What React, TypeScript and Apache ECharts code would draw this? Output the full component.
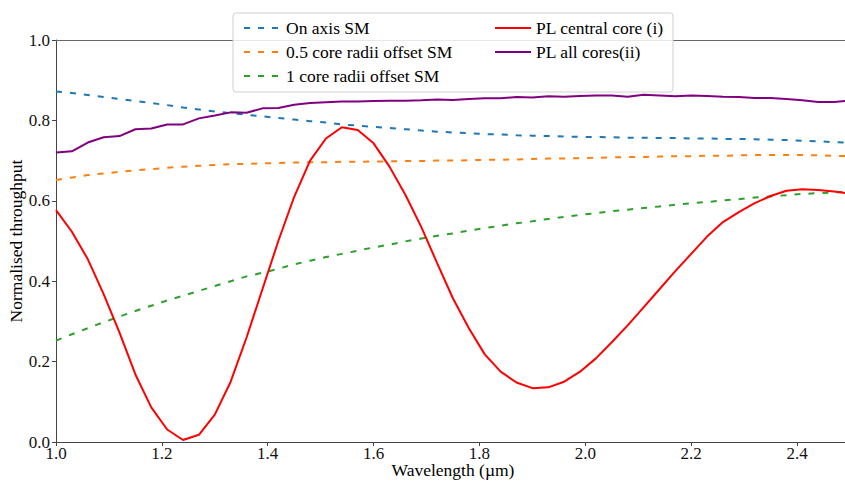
import React, { useEffect, useRef } from "react";
import * as echarts from "echarts";

// Wavelength samples (µm)
const wavelength = [
  1.00, 1.03, 1.06, 1.09, 1.12, 1.15, 1.18, 1.21, 1.24, 1.27,
  1.30, 1.33, 1.36, 1.39, 1.42, 1.45, 1.48, 1.51, 1.54, 1.57,
  1.60, 1.63, 1.66, 1.69, 1.72, 1.75, 1.78, 1.81, 1.84, 1.87,
  1.90, 1.93, 1.96, 1.99, 2.02, 2.05, 2.08, 2.11, 2.14, 2.17,
  2.20, 2.23, 2.26, 2.29, 2.32, 2.35, 2.38, 2.41, 2.44, 2.47, 2.50,
];

const onAxisSM = [
  0.872, 0.868, 0.863, 0.858, 0.853, 0.848, 0.843, 0.838, 0.832, 0.827,
  0.822, 0.818, 0.814, 0.810, 0.806, 0.802, 0.798, 0.795, 0.790, 0.787,
  0.784, 0.781, 0.778, 0.775, 0.772, 0.770, 0.768, 0.766, 0.765, 0.763,
  0.762, 0.761, 0.760, 0.759, 0.759, 0.758, 0.757, 0.757, 0.756, 0.756,
  0.755, 0.755, 0.754, 0.754, 0.753, 0.752, 0.751, 0.749, 0.748, 0.746, 0.744,
];

const halfCoreSM = [
  0.652, 0.658, 0.664, 0.668, 0.672, 0.676, 0.679, 0.682, 0.685, 0.687,
  0.689, 0.691, 0.692, 0.693, 0.694, 0.695, 0.696, 0.696, 0.697, 0.697,
  0.698, 0.698, 0.699, 0.699, 0.700, 0.700, 0.701, 0.702, 0.702, 0.703,
  0.704, 0.705, 0.705, 0.706, 0.707, 0.708, 0.709, 0.709, 0.710, 0.711,
  0.711, 0.712, 0.712, 0.713, 0.714, 0.714, 0.714, 0.714, 0.713, 0.712, 0.711,
];

const oneCoreSM = [
  0.252, 0.268, 0.283, 0.298, 0.312, 0.326, 0.339, 0.352, 0.364, 0.376,
  0.388, 0.400, 0.412, 0.421, 0.431, 0.442, 0.451, 0.460, 0.468, 0.476,
  0.484, 0.491, 0.499, 0.506, 0.513, 0.519, 0.526, 0.532, 0.538, 0.544,
  0.549, 0.555, 0.560, 0.565, 0.569, 0.574, 0.578, 0.582, 0.586, 0.590,
  0.594, 0.597, 0.601, 0.604, 0.608, 0.611, 0.614, 0.617, 0.619, 0.621, 0.623,
];

const plCentral = [
  0.577, 0.523, 0.455, 0.368, 0.272, 0.168, 0.086, 0.031, 0.005, 0.018,
  0.068, 0.150, 0.260, 0.380, 0.500, 0.610, 0.700, 0.755, 0.783, 0.776,
  0.743, 0.685, 0.615, 0.535, 0.445, 0.357, 0.283, 0.218, 0.175, 0.148,
  0.134, 0.136, 0.150, 0.175, 0.208, 0.248, 0.290, 0.335, 0.380, 0.425,
  0.468, 0.511, 0.547, 0.572, 0.594, 0.612, 0.625, 0.629, 0.627, 0.623, 0.618,
];

const plAllCores = [
  0.720, 0.723, 0.745, 0.758, 0.761, 0.778, 0.780, 0.790, 0.790, 0.805,
  0.812, 0.820, 0.819, 0.830, 0.831, 0.839, 0.843, 0.845, 0.847, 0.847,
  0.848, 0.849, 0.849, 0.850, 0.852, 0.851, 0.853, 0.855, 0.855, 0.858,
  0.857, 0.860, 0.859, 0.861, 0.862, 0.862, 0.859, 0.864, 0.862, 0.860,
  0.862, 0.861, 0.859, 0.858, 0.856, 0.856, 0.853, 0.850, 0.846, 0.846, 0.849,
];

const xTicks = [1.0, 1.2, 1.4, 1.6, 1.8, 2.0, 2.2, 2.4];
const yTicks = [0.0, 0.2, 0.4, 0.6, 0.8, 1.0];

const FONT = "Liberation Serif";
const AXIS_COLOR = "#444";
const TEXT_SIZE = 17.5;

const pairs = (ys: number[]) => wavelength.map((x, i) => [x, ys[i]]);

export default function App() {
  const ref = useRef<HTMLDivElement>(null);

  useEffect(() => {
    if (!ref.current) return;
    const chart = echarts.init(ref.current, undefined, { renderer: "svg" });

    const dashed = (name: string, color: string, ys: number[]) => ({
      name,
      type: "line",
      data: pairs(ys),
      symbol: "none",
      lineStyle: { color, width: 2, type: [6, 8] },
      itemStyle: { color },
      z: 2,
    });
    const solid = (name: string, color: string, ys: number[]) => ({
      name,
      type: "line",
      data: pairs(ys),
      symbol: "none",
      lineStyle: { color, width: 2 },
      itemStyle: { color },
      z: 3,
    });

    const legendCommon = {
      orient: "vertical",
      top: 14,
      itemWidth: 37,
      itemHeight: 14,
      itemGap: 6,
      itemStyle: { opacity: 0 },
      textStyle: { fontFamily: FONT, fontSize: TEXT_SIZE, color: "#000", lineHeight: 18 },
      z: 6,
    };

    const tickFmt = (ticks: number[]) => (v: number) =>
      ticks.some((t) => Math.abs(t - v) < 1e-6) ? v.toFixed(1) : "";

    chart.setOption({
      animation: false,
      backgroundColor: "#fff",
      grid: {
        left: 56,
        top: 40,
        width: 794,
        height: 402,
        containLabel: false,
        outerBoundsMode: "none",
      },
      xAxis: [
        {
          type: "value",
          min: 1.0,
          max: 2.5,
          interval: 0.2,
          name: "Wavelength (µm)",
          nameLocation: "middle",
          nameGap: 19,
          nameMoveOverlap: false,
          nameTextStyle: { fontFamily: FONT, fontSize: TEXT_SIZE, color: "#000", lineHeight: 17 },
          axisLine: { show: true, onZero: false, lineStyle: { color: AXIS_COLOR, width: 1 } },
          axisTick: { show: true, length: 4, lineStyle: { color: AXIS_COLOR } },
          axisLabel: {
            show: true,
            fontFamily: FONT,
            fontSize: 17,
            lineHeight: 13,
            color: "#111",
            margin: 5,
            showMaxLabel: false,
            formatter: tickFmt(xTicks),
          },
          splitLine: { show: false },
        },
        {
          type: "value",
          position: "top",
          min: 1.0,
          max: 2.5,
          axisLine: { show: true, onZero: false, lineStyle: { color: "#666", width: 1 } },
          axisTick: { show: false },
          axisLabel: { show: false },
          splitLine: { show: false },
        },
      ],
      yAxis: {
        type: "value",
        min: 0,
        max: 1,
        interval: 0.2,
        name: "Normalised throughput",
        nameLocation: "middle",
        nameGap: 31,
        nameMoveOverlap: false,
        nameTextStyle: { fontFamily: FONT, fontSize: TEXT_SIZE, color: "#000" },
        axisLine: { show: true, lineStyle: { color: AXIS_COLOR, width: 1 } },
        axisTick: { show: true, length: 4, lineStyle: { color: AXIS_COLOR } },
        axisLabel: {
          show: true,
          fontFamily: FONT,
          fontSize: 17,
          color: "#111",
          margin: 6,
          formatter: tickFmt(yTicks),
        },
        splitLine: { show: false },
      },
      graphic: [
        {
          type: "rect",
          shape: { x: 233, y: 13, width: 440, height: 79, r: 3 },
          style: { fill: "rgba(255,255,255,0.85)", stroke: "#d0d0d0", lineWidth: 1 },
          z: 5,
        },
      ],
      legend: [
        {
          ...legendCommon,
          left: 238,
          data: ["On axis SM", "0.5 core radii offset SM", "1 core radii offset SM"],
        },
        {
          ...legendCommon,
          left: 489,
          itemWidth: 36,
          data: ["PL central core (i)", "PL all cores(ii)"],
        },
      ],
      series: [
        dashed("On axis SM", "#1f77b4", onAxisSM),
        dashed("0.5 core radii offset SM", "#ff7f0e", halfCoreSM),
        dashed("1 core radii offset SM", "#2ca02c", oneCoreSM),
        solid("PL central core (i)", "#ff0000", plCentral),
        solid("PL all cores(ii)", "#800080", plAllCores),
      ],
    });

    return () => chart.dispose();
  }, []);

  return (
    <div
      ref={ref}
      style={{ width: 845, height: 482, position: "absolute", left: 0, top: 0 }}
    />
  );
}
